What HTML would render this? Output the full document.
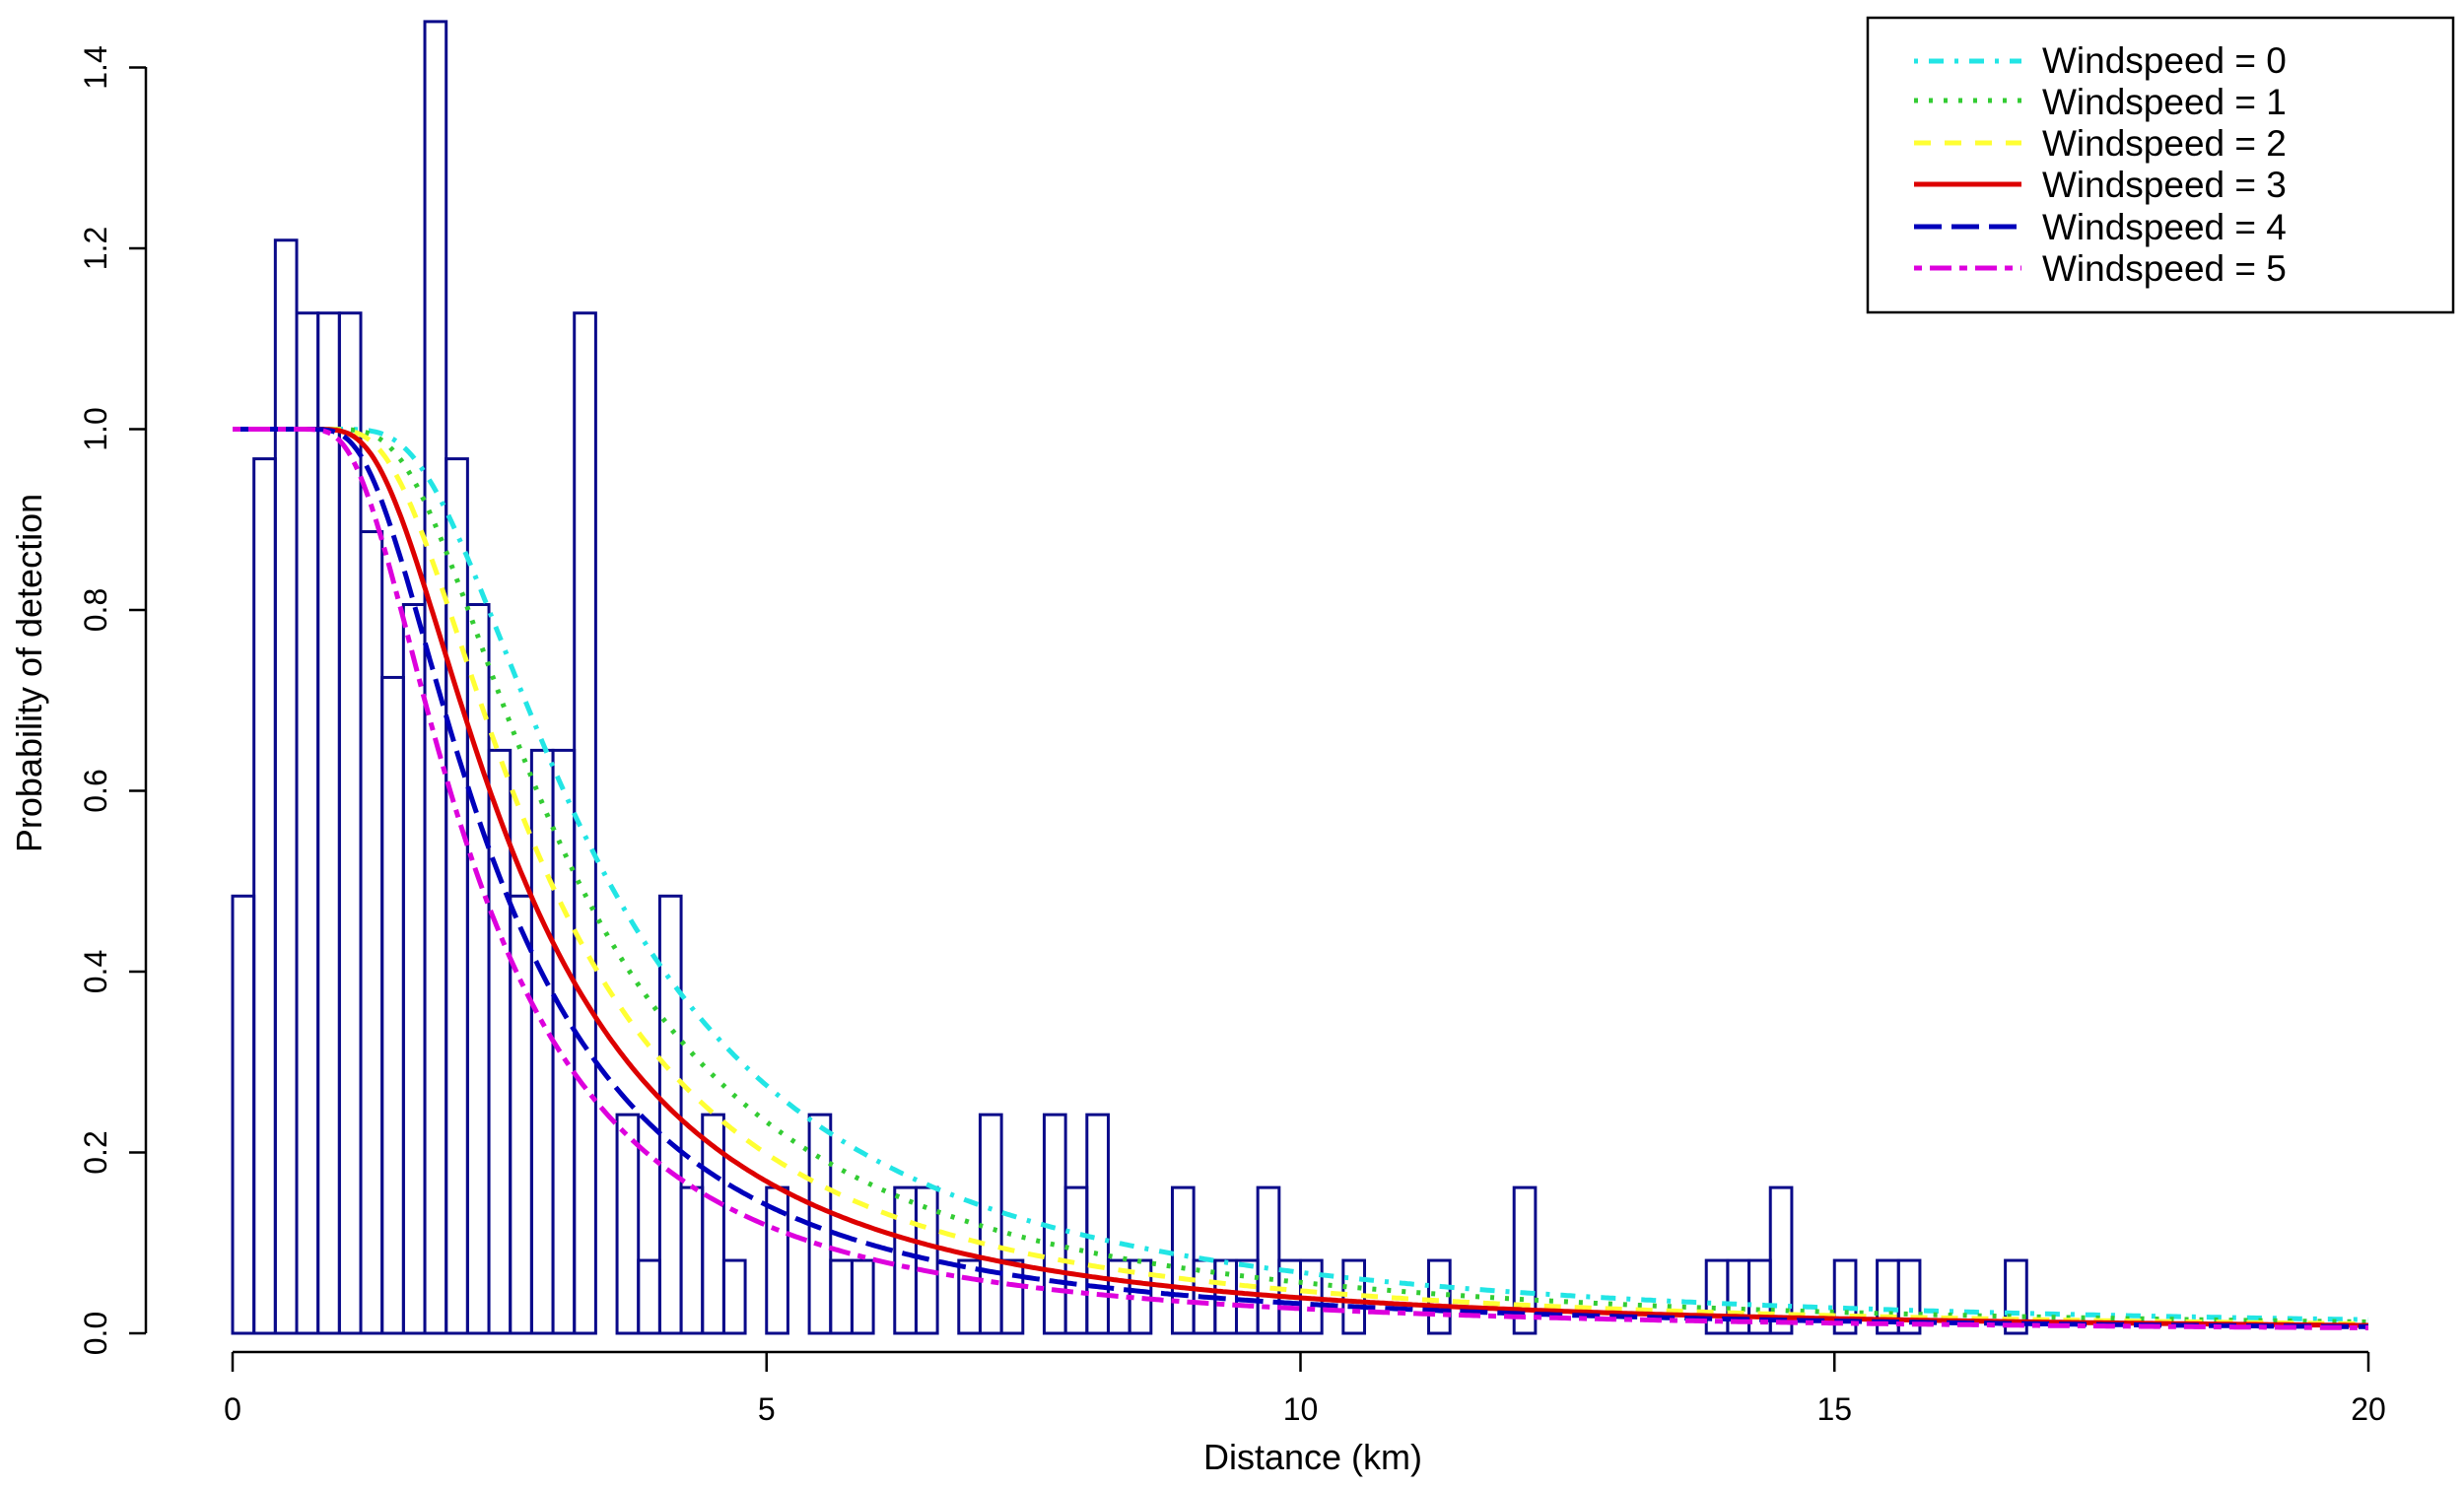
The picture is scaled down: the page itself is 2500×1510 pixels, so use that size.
<!DOCTYPE html>
<html><head><meta charset="utf-8"><style>
html,body{margin:0;padding:0;background:#fff;}
svg{display:block;font-family:"Liberation Sans",Arial,sans-serif;}
</style></head><body>
<svg id="s" width="2500" height="1510" viewBox="0 0 2500 1510" xmlns="http://www.w3.org/2000/svg">
<rect width="2500" height="1510" fill="#fff"/>
<g id="hist"></g>
<g id="curves"></g>
<g stroke="#000" stroke-width="2.5" fill="none">
<line x1="148" y1="1353" x2="148" y2="68"/>
<line x1="131" y1="1353" x2="148" y2="1353"/>
<line x1="131" y1="1169.5" x2="148" y2="1169.5"/>
<line x1="131" y1="986" x2="148" y2="986"/>
<line x1="131" y1="802.5" x2="148" y2="802.5"/>
<line x1="131" y1="619" x2="148" y2="619"/>
<line x1="131" y1="435.5" x2="148" y2="435.5"/>
<line x1="131" y1="252" x2="148" y2="252"/>
<line x1="131" y1="68.5" x2="148" y2="68.5"/>
<line x1="236" y1="1372" x2="2403" y2="1372"/>
<line x1="236" y1="1372" x2="236" y2="1392"/>
<line x1="777.75" y1="1372" x2="777.75" y2="1392"/>
<line x1="1319.5" y1="1372" x2="1319.5" y2="1392"/>
<line x1="1861.25" y1="1372" x2="1861.25" y2="1392"/>
<line x1="2403" y1="1372" x2="2403" y2="1392"/>
</g>
<g font-size="32" fill="#000" text-anchor="middle">
<text transform="translate(108,1353) rotate(-90)">0.0</text>
<text transform="translate(108,1169.5) rotate(-90)">0.2</text>
<text transform="translate(108,986) rotate(-90)">0.4</text>
<text transform="translate(108,802.5) rotate(-90)">0.6</text>
<text transform="translate(108,619) rotate(-90)">0.8</text>
<text transform="translate(108,435.5) rotate(-90)">1.0</text>
<text transform="translate(108,252) rotate(-90)">1.2</text>
<text transform="translate(108,68.5) rotate(-90)">1.4</text>
<text x="236" y="1441">0</text>
<text x="777.75" y="1441">5</text>
<text x="1319.5" y="1441">10</text>
<text x="1861.25" y="1441">15</text>
<text x="2403" y="1441">20</text>
</g>
<text x="1332" y="1491" font-size="36" text-anchor="middle">Distance (km)</text>
<text transform="translate(42,683) rotate(-90)" font-size="36" text-anchor="middle">Probability of detection</text>
<rect x="1895" y="18" width="594" height="299" fill="#fff" stroke="#000" stroke-width="2.5"/>
<g id="leg"></g>
<g font-size="37" fill="#000">
<text x="2072" y="74">Windspeed = 0</text>
<text x="2072" y="116">Windspeed = 1</text>
<text x="2072" y="158">Windspeed = 2</text>
<text x="2072" y="200">Windspeed = 3</text>
<text x="2072" y="243">Windspeed = 4</text>
<text x="2072" y="285">Windspeed = 5</text>
</g>
</svg>
<script>
(function(){
var NS="http://www.w3.org/2000/svg";
function X(x){return 236+x*108.35;}
function Y(v){return 1353-v*917.5;}
var u=0.0806;
var h=[6,12,15,14,14,14,11,9,10,18,12,10,8,6,8,8,14,0,3,1,6,2,3,1,0,2,0,3,1,1,0,2,2,0,1,3,1,0,3,2,3,1,1,0,2,1,1,1,2,1,1,0,1,0,0,0,1,0,0,0,2,0,0,0,0,0,0,0,0,1,1,1,2,0,0,1,0,1,1,0,0,0,0,1];
var g=document.getElementById("hist");
for(var i=0;i<h.length;i++){
  var r=document.createElementNS(NS,"rect");
  var x0=X(i*0.2),x1=X((i+1)*0.2),top=Y(h[i]*u);
  r.setAttribute("x",x0);r.setAttribute("y",top);
  r.setAttribute("width",x1-x0);r.setAttribute("height",Math.max(0,1353-top));
  r.setAttribute("fill","none");r.setAttribute("stroke","#0a0a8a");r.setAttribute("stroke-width","3");
  g.appendChild(r);
}
var cols=["#22e5e5","#33cc33","#ffff33","#dd0000","#0000bb","#dd00dd"];
var dash=["4 11 15 11","4 11","17 14","none","28 10","8 8 22 8"];
var b=2.2;
var cg=document.getElementById("curves");
for(var w=0;w<6;w++){
  var sig=2.98*Math.exp(-0.084*w);
  var d="";
  for(var k=0;k<=800;k++){
    var x=k*0.025;
    var v=(x<=0)?1:1-Math.exp(-Math.pow(x/sig,-b));
    d+=(k?"L":"M")+X(x).toFixed(1)+" "+Y(v).toFixed(1);
  }
  var p=document.createElementNS(NS,"path");
  p.setAttribute("d",d);p.setAttribute("fill","none");
  p.setAttribute("stroke",cols[w]);p.setAttribute("stroke-width","5");
  if(dash[w]!="none")p.setAttribute("stroke-dasharray",dash[w]);
  cg.appendChild(p);
  var l=document.createElementNS(NS,"line");
  var ly=[62,102,145,187,230,272][w];
  l.setAttribute("x1",1942);l.setAttribute("x2",2051);
  l.setAttribute("y1",ly);l.setAttribute("y2",ly);
  l.setAttribute("stroke",cols[w]);l.setAttribute("stroke-width","5");
  if(dash[w]!="none")l.setAttribute("stroke-dasharray",dash[w]);
  document.getElementById("leg").appendChild(l);
}
})();
</script>
</body></html>
